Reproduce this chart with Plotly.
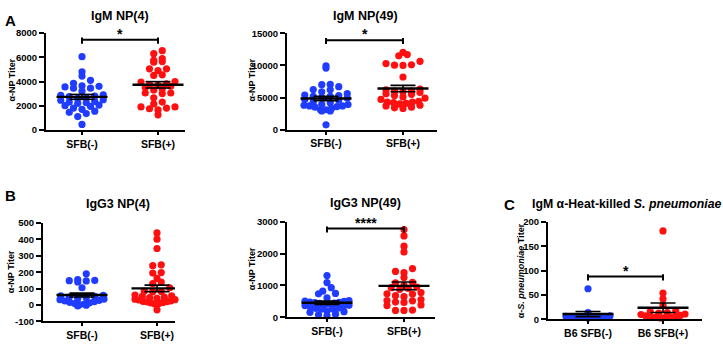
import numpy as np
import plotly.graph_objects as go

W, H = 723, 344

# ---------------- data ----------------
panel_titles = ["IgM NP(4)", "IgM NP(49)", "IgG3 NP(4)", "IgG3 NP(49)",
                "IgM α-Heat-killed <i>S. pneumoniae</i>"]
panel_letters = ["A", "B", "C"]
categories_np = ["SFB(-)", "SFB(+)"]
categories_c = ["B6 SFB(-)", "B6 SFB(+)"]
ylabel_np = "α-NP Titer"
ylabel_c = "α-<i>S. pneumoniae</i> Titer"

igm_np4_neg = [6050, 4800, 4450, 4100, 3850, 3650, 3600, 3550, 3450, 3450, 3200,
               2900, 2850, 2800, 2750, 2650, 2600, 2500, 2450, 2350, 2300, 2250,
               2200, 2050, 2000, 1950, 1800, 1700, 1550, 1450, 1350, 1100, 450]
igm_np4_pos = [6550, 6300, 5900, 5650, 5600, 5750, 5050, 4900, 5050, 4500, 4550,
               4000, 3950, 3800, 3700, 3750, 3600, 3500, 3400, 3300, 3050, 3000,
               3050, 2650, 2300, 2150, 1900, 1750, 1650, 1800, 1900, 1250]

igm_np49_neg = [9950, 9600, 7050, 7000, 6700, 6250, 6200, 5900, 5600, 5400, 5300,
                5200, 5200, 5000, 4900, 4700, 4600, 4300, 4200, 3950, 3900, 3800,
                3700, 3700, 3600, 3500, 3300, 3100, 3100, 2900, 2900, 750]
igm_np49_pos = [12050, 11700, 11500, 10650, 10300, 10100, 10050, 10000, 8200, 6300,
                6200, 6000, 6000, 5900, 5800, 5600, 5500, 5300, 5100, 4900, 4700,
                4400, 4300, 4300, 4200, 4100, 4000, 3800, 3700, 3500, 3400, 3300]

igg3_np4_neg = [190, 155, 150, 148, 147, 140, 105, 58, 55, 52, 48, 44, 40, 36, 32,
                28, 24, 20, 16, 12, 8, 5, 2, -2, -6]
igg3_np4_pos = [440, 402, 345, 245, 240, 198, 195, 162, 140, 130, 105, 85, 82, 80,
                70, 60, 55, 52, 48, 45, 40, 38, 35, 32, 30, 25, 22, 20, 18, 15, 12,
                8, 5, -30]

igg3_np49_neg = [1310, 1090, 930, 820, 750, 740, 610, 530, 510, 500, 480, 470, 460,
                 450, 440, 420, 400, 380, 370, 350, 320, 290, 280, 270, 260, 200,
                 180, 160, 100, 80, 50]
igg3_np49_pos = [2750, 2550, 2230, 2050, 1530, 1440, 1400, 1250, 1100, 1080, 1000,
                 950, 930, 910, 880, 780, 740, 730, 680, 650, 560, 530, 520, 480,
                 470, 390, 370, 230, 220, 220]

spn_neg = [63, 14, 7, 6, 5, 5, 5, 4, 4, 4, 3]
spn_pos = [182, 54, 42, 29, 17, 16, 14, 13, 11, 10, 8, 7, 6, 5, 5, 4, 4, 3]

yticks_A1 = [0, 2000, 4000, 6000, 8000]
yticks_A2 = [0, 5000, 10000, 15000]
yticks_B1 = [-100, 0, 100, 200, 300, 400, 500]
yticks_B2 = [0, 1000, 2000, 3000]
yticks_C = [0, 50, 100, 150, 200]

significance = ["*", "*", None, "****", "*"]
bracket_heights = [7450, 13950, None, 2780, 88]

# ---------------- layout (pixel boxes) ----------------
panels = [
    dict(neg=igm_np4_neg, pos=igm_np4_pos, ticks=yticks_A1, cats=categories_np,
         ylab=ylabel_np, left=46, right=185, top=28, bottom=128, c0=82, c1=158,
         title_xy=(120, 10), ylab_xy=(12, 77)),
    dict(neg=igm_np49_neg, pos=igm_np49_pos, ticks=yticks_A2, cats=categories_np,
         ylab=ylabel_np, left=287, right=437, top=28.3, bottom=127.7, c0=326, c1=403,
         title_xy=(365, 10), ylab_xy=(252, 77)),
    dict(neg=igg3_np4_neg, pos=igg3_np4_pos, ticks=yticks_B1, cats=categories_np,
         ylab=ylabel_np, left=43, right=175, top=224.3, bottom=325.7, c0=82, c1=157,
         title_xy=(118, 205), ylab_xy=(11, 275)),
    dict(neg=igg3_np49_neg, pos=igg3_np49_pos, ticks=yticks_B2, cats=categories_np,
         ylab=ylabel_np, left=287, right=435, top=222.7, bottom=321.7, c0=327, c1=404,
         title_xy=(365, 203), ylab_xy=(252, 272)),
    dict(neg=spn_neg, pos=spn_pos, ticks=yticks_C, cats=categories_c,
         ylab=ylabel_c, left=548, right=702, top=223.3, bottom=323.7, c0=588, c1=663,
         title_xy=(530, 205), ylab_xy=(521, 274)),
]
letter_xy = [(10, 15), (10, 196), (509, 205)]

BLUE = "#1f3cff"
RED = "#ff1010"
FONT = "Arial, 'Liberation Sans', sans-serif"
DOT = 7.2


def swarm(values, px_per_x, px_per_y, row_h=6.5, step=8.5, max_half=22.0):
    """Row-based column-scatter layout: points whose pixel heights fall in the
    same row are spread side by side (lowest in the middle); crowded rows are
    squeezed to a maximum half width, letting dots overlap."""
    vals = np.asarray(values, dtype=float)
    rows = np.floor(vals * px_per_y / row_h).astype(int)
    offs = np.zeros(len(vals))
    for r in np.unique(rows):
        idx = [i for i in np.argsort(vals, kind="stable") if rows[i] == r]
        nr = len(idx)
        st = step if nr < 2 else min(step, 2 * max_half / (nr - 1))
        slots = [(j - (nr - 1) / 2) * st for j in range(nr)]
        slots.sort(key=lambda c: (round(abs(c), 6), c))
        for i, sl in zip(idx, slots):
            offs[i] = sl / px_per_x
    return offs


fig = go.Figure()
annotations = []
layout_axes = {}

for k, p in enumerate(panels):
    n = "" if k == 0 else str(k + 1)
    xa, ya = "x" + n, "y" + n
    unit = p["c1"] - p["c0"]
    xr = [(p["left"] - p["c0"]) / unit, (p["right"] - p["c0"]) / unit]
    yr = [p["ticks"][0], p["ticks"][-1]]
    px_y = (p["bottom"] - p["top"]) / (yr[1] - yr[0])

    for gi, (vals, col) in enumerate([(p["neg"], BLUE), (p["pos"], RED)]):
        offs = swarm(vals, unit, px_y)
        fig.add_trace(go.Scatter(
            x=gi + offs, y=vals, mode="markers", xaxis=xa, yaxis=ya,
            marker=dict(size=DOT, color=col, line=dict(width=0)),
            cliponaxis=False, showlegend=False, hoverinfo="y"))

    # mean and SEM
    mx, my, sx, sy = [], [], [], []
    for gi, vals in enumerate([p["neg"], p["pos"]]):
        v = np.asarray(vals, dtype=float)
        m = v.mean()
        s = v.std(ddof=1) / np.sqrt(len(v))
        hw = 25.5 / unit
        cw = 12.5 / unit
        mx += [gi - hw, gi + hw, None]
        my += [m, m, None]
        sx += [gi - cw, gi + cw, None, gi - cw, gi + cw, None, gi, gi, None]
        sy += [m + s, m + s, None, m - s, m - s, None, m - s, m + s, None]
    fig.add_trace(go.Scatter(x=sx, y=sy, mode="lines", xaxis=xa, yaxis=ya,
                             line=dict(color="black", width=1.6),
                             showlegend=False, hoverinfo="skip"))
    fig.add_trace(go.Scatter(x=mx, y=my, mode="lines", xaxis=xa, yaxis=ya,
                             line=dict(color="black", width=2.4),
                             showlegend=False, hoverinfo="skip"))

    # significance bracket
    if significance[k]:
        bh = bracket_heights[k]
        up = 2.3 / px_y
        dn = 4.0 / px_y
        fig.add_trace(go.Scatter(
            x=[0, 0, None, 0, 1, None, 1, 1],
            y=[bh + up, bh - dn, None, bh, bh, None, bh + up, bh - dn],
            mode="lines", xaxis=xa, yaxis=ya, cliponaxis=False,
            line=dict(color="black", width=2), showlegend=False, hoverinfo="skip"))
        annotations.append(dict(
            x=0.5, y=bh, xref=xa, yref=ya, text=significance[k], showarrow=False,
            yanchor="bottom", yshift=-4, font=dict(family=FONT, size=14, color="black",
                                                   weight="bold")))

    axis_font = dict(family=FONT, size=10.5, color="black", weight="bold")
    layout_axes["xaxis" + n] = dict(
        domain=[p["left"] / W, p["right"] / W], range=xr, anchor=ya,
        tickvals=[0, 1], ticktext=p["cats"], showline=True, linewidth=2,
        linecolor="black", ticks="outside", ticklen=3, tickwidth=2,
        tickcolor="black", showgrid=False, zeroline=False, tickfont=axis_font,
        fixedrange=True)
    layout_axes["yaxis" + n] = dict(
        domain=[1 - p["bottom"] / H, 1 - p["top"] / H], range=yr, anchor=xa,
        tickvals=p["ticks"], ticktext=[str(t) for t in p["ticks"]],
        showline=True, linewidth=2, linecolor="black",
        ticks="outside", ticklen=5, tickwidth=2, tickcolor="black",
        showgrid=False, zeroline=False,
        tickfont=dict(family=FONT, size=9.5, color="black", weight="bold"),
        fixedrange=True)

    # title
    tx, ty = p["title_xy"]
    annotations.append(dict(
        x=tx / W, y=1 - ty / H, xref="paper", yref="paper", text=panel_titles[k],
        showarrow=False, xanchor="left" if k == 4 else "center", yanchor="middle",
        font=dict(family=FONT, size=12.3 if k == 4 else 12.5, color="black",
                  weight="bold")))
    # y label
    lx, ly = p["ylab_xy"]
    annotations.append(dict(
        x=lx / W, y=1 - ly / H, xref="paper", yref="paper", text=p["ylab"],
        showarrow=False, textangle=-90, xanchor="center", yanchor="middle",
        font=dict(family=FONT, size=9, color="black", weight="bold")))

for letter, (lx, ly) in zip(panel_letters, letter_xy):
    annotations.append(dict(
        x=lx / W, y=1 - ly / H, xref="paper", yref="paper", text=letter,
        showarrow=False, xanchor="center", yanchor="middle",
        font=dict(family=FONT, size=15, color="black", weight="bold")))

fig.update_layout(
    width=W, height=H, margin=dict(l=0, r=0, t=0, b=0),
    paper_bgcolor="white", plot_bgcolor="white",
    annotations=annotations, showlegend=False, **layout_axes)

fig.write_html("out.html", config={"displayModeBar": False},
               post_script="document.body.style.margin='0';"
                           "document.body.style.overflow='hidden';")
